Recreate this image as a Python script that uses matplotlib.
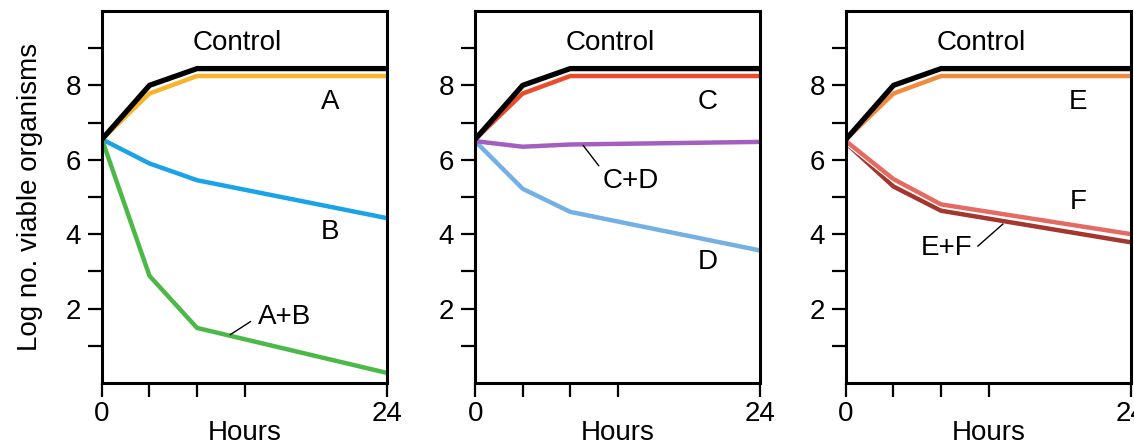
import matplotlib.pyplot as plt
import matplotlib.patheffects as pe

plt.rcParams['font.family'] = ['Liberation Sans', 'DejaVu Sans']

# time points (hours)
hours = [0, 4, 8, 24]

# control curve, same in all three panels
control = [6.55, 8.0, 8.45, 8.45]

# panel 1
a_vals = [6.55, 7.78, 8.25, 8.25]
b_vals = [6.55, 5.9, 5.45, 4.43]
ab_vals = [6.55, 2.88, 1.48, 0.27]

# panel 2
c_vals = [6.55, 7.78, 8.25, 8.25]
cd_vals = [6.5, 6.35, 6.41, 6.48]
d_vals = [6.5, 5.22, 4.6, 3.56]

# panel 3
e_vals = [6.55, 7.78, 8.25, 8.25]
f_vals = [6.5, 5.48, 4.8, 4.0]
ef_vals = [6.45, 5.28, 4.63, 3.78]

fs = 20

fig = plt.figure(figsize=(11.34, 4.44), dpi=100)
lefts = [0.0899, 0.419, 0.746]
axes = [fig.add_axes([l, 0.1374, 0.2515, 0.838]) for l in lefts]


def style(ax, ylabel=False):
    ax.set_xlim(0, 24)
    ax.set_ylim(0, 10)
    ax.set_yticks(range(1, 10))
    ax.set_yticklabels(['', '2', '', '4', '', '6', '', '8', ''])
    ax.set_xticks([0, 4, 8, 12, 24])
    ax.set_xticklabels(['0', '', '', '', '24'])
    ax.tick_params(axis='both', direction='out', length=10, width=1.6,
                   labelsize=fs, colors='black')
    ax.tick_params(axis='y', pad=5)
    ax.tick_params(axis='x', pad=3)
    for s in ax.spines.values():
        s.set_linewidth(2.2)
    ax.set_xlabel('Hours', fontsize=fs, labelpad=-5)
    if ylabel:
        ax.set_ylabel('Log no. viable organisms', fontsize=fs, labelpad=16)
    ax.text(11.4, 9.15, 'Control', fontsize=fs, ha='center', va='center')


lw = 3.2

# panel 1
ax = axes[0]
style(ax, ylabel=True)
ax.plot(hours, b_vals, color='#1aa3e8', lw=lw)
ax.plot(hours, ab_vals, color='#4cb848', lw=lw)
ax.plot(hours, a_vals, color='#f7b52b', lw=lw)
ax.plot(hours, control, color='black', lw=3.8)
ax.text(19.2, 7.56, 'A', fontsize=fs, ha='center', va='center')
ax.text(19.2, 4.05, 'B', fontsize=fs, ha='center', va='center')
ax.text(15.4, 1.78, 'A+B', fontsize=fs, ha='center', va='center')
ax.plot([12.5, 10.8], [1.65, 1.3], color='black', lw=1)

# panel 2
ax = axes[1]
style(ax)
ax.plot(hours, d_vals, color='#74b0e4', lw=lw)
ax.plot(hours, cd_vals, color='#a45ec0', lw=lw)
ax.plot(hours, c_vals, color='#ec4a2c', lw=lw)
ax.plot(hours, control, color='black', lw=3.8)
ax.text(19.6, 7.56, 'C', fontsize=fs, ha='center', va='center')
ax.text(19.6, 3.24, 'D', fontsize=fs, ha='center', va='center')
ax.text(13.1, 5.44, 'C+D', fontsize=fs, ha='center', va='center')
ax.plot([9.1, 10.4], [6.38, 5.84], color='black', lw=1)

# panel 3
ax = axes[2]
style(ax)
ax.plot(hours, ef_vals, color='#a4362e', lw=lw)
ax.plot(hours, f_vals, color='#e46a62', lw=lw,
        path_effects=[pe.Stroke(linewidth=lw + 1.6, foreground='white'), pe.Normal()])
ax.plot(hours, e_vals, color='#f28a3e', lw=lw)
ax.plot(hours, control, color='black', lw=3.8)
ax.text(19.5, 7.56, 'E', fontsize=fs, ha='center', va='center')
ax.text(19.5, 4.86, 'F', fontsize=fs, ha='center', va='center')
ax.text(8.5, 3.64, 'E+F', fontsize=fs, ha='center', va='center')
ax.plot([11.1, 13.2], [3.68, 4.27], color='black', lw=1)

plt.savefig('out.png', dpi=100)
